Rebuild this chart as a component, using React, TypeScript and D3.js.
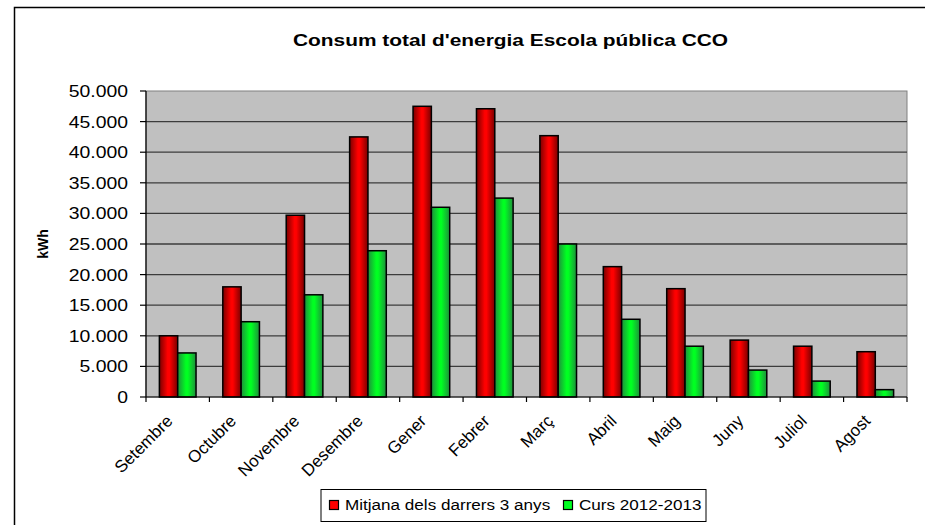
import React from "react";
import * as d3 from "d3";

const months = [
  "Setembre", "Octubre", "Novembre", "Desembre", "Gener", "Febrer",
  "Març", "Abril", "Maig", "Juny", "Juliol", "Agost",
];
const avgLast3 = [10000, 18000, 29700, 42500, 47500, 47100, 42700, 21300, 17700, 9300, 8300, 7400];
const curs1213 = [7200, 12300, 16700, 23900, 31000, 32500, 25000, 12700, 8300, 4400, 2600, 1200];
const yTicks = [0, 5000, 10000, 15000, 20000, 25000, 30000, 35000, 40000, 45000, 50000];
const seriesNames = ["Mitjana dels darrers 3 anys", "Curs 2012-2013"];

const W = 925;
const H = 525;
const plot = { left: 146, right: 907, top: 91, bottom: 397 };
const SX = 1.14;
const FONT = "'Liberation Sans', Arial, sans-serif";

const fmt = (v: number) => d3.format(",")(v).replace(/,/g, ".");

export default function App() {
  const x = d3.scaleBand<string>().domain(months).range([plot.left, plot.right]).padding(0);
  const x1 = d3
    .scaleBand<string>()
    .domain(["a", "c"])
    .range([0, x.bandwidth()])
    .paddingInner(0)
    .paddingOuter(0.73);
  const y = d3.scaleLinear().domain([0, 50000]).range([plot.bottom, plot.top]);

  const rows = months.map((m, i) => ({ m, a: avgLast3[i], c: curs1213[i] }));
  const boundaries = months.map((m) => x(m)!).concat([plot.right]);

  return (
    <svg
      width={W}
      height={H}
      style={{ position: "absolute", left: 0, top: 0, background: "#fff" }}
      fontFamily={FONT}
    >
      <defs>
        <linearGradient id="gRed" x1="0" x2="1" y1="0" y2="0">
          <stop offset="0%" stopColor="#7a0000" />
          <stop offset="45%" stopColor="#ff0000" />
          <stop offset="55%" stopColor="#ff0000" />
          <stop offset="100%" stopColor="#7a0000" />
        </linearGradient>
        <linearGradient id="gGreen" x1="0" x2="1" y1="0" y2="0">
          <stop offset="0%" stopColor="#1f8f3c" />
          <stop offset="45%" stopColor="#00ff22" />
          <stop offset="55%" stopColor="#00ff22" />
          <stop offset="100%" stopColor="#1f8f3c" />
        </linearGradient>
      </defs>

      {/* outer chart frame */}
      <rect x={14.5} y={7.5} width={W + 20} height={H + 20} fill="#fff" stroke="#000" strokeWidth={1.5} />

      {/* title */}
      <text
        x={293}
        y={46}
        fontSize={16}
        fontWeight="bold"
        textLength={435}
        lengthAdjust="spacingAndGlyphs"
      >
        Consum total d'energia Escola pública CCO
      </text>

      {/* plot area */}
      <rect
        x={plot.left}
        y={plot.top}
        width={plot.right - plot.left}
        height={plot.bottom - plot.top}
        fill="#c0c0c0"
        stroke="#808080"
        strokeWidth={1}
      />

      {/* gridlines */}
      {yTicks.slice(1, -1).map((t) => (
        <line key={t} x1={plot.left} x2={plot.right} y1={y(t)} y2={y(t)} stroke="#3c3c3c" strokeWidth={1.3} />
      ))}

      {/* bars */}
      {rows.map((r) => (
        <g key={r.m} transform={`translate(${x(r.m)},0)`}>
          <rect
            x={x1("a")}
            y={y(r.a)}
            width={x1.bandwidth()}
            height={y(0) - y(r.a)}
            fill="url(#gRed)"
            stroke="#000"
            strokeWidth={1.5}
          />
          <rect
            x={x1("c")}
            y={y(r.c)}
            width={x1.bandwidth()}
            height={y(0) - y(r.c)}
            fill="url(#gGreen)"
            stroke="#000"
            strokeWidth={1.5}
          />
        </g>
      ))}

      {/* axes */}
      <line x1={plot.left} x2={plot.left} y1={plot.top} y2={plot.bottom} stroke="#000" strokeWidth={1.2} />
      <line x1={plot.left} x2={plot.right} y1={plot.bottom} y2={plot.bottom} stroke="#000" strokeWidth={1.2} />

      {yTicks.map((t) => (
        <g key={t}>
          <line x1={plot.left - 6} x2={plot.left} y1={y(t)} y2={y(t)} stroke="#000" strokeWidth={1.2} />
          <text
            transform={`translate(128,${y(t) + 6}) scale(${SX},1)`}
            textAnchor="end"
            fontSize={17}
            fill="#000"
          >
            {fmt(t)}
          </text>
        </g>
      ))}

      {boundaries.map((bx, i) => (
        <line key={i} x1={bx} x2={bx} y1={plot.bottom} y2={plot.bottom + 5} stroke="#000" strokeWidth={1.2} />
      ))}

      {months.map((m) => {
        const cx = x(m)! + x.bandwidth() / 2;
        return (
          <text
            key={m}
            transform={`translate(${cx - 4},${422}) rotate(-45)`}
            textAnchor="end"
            fontSize={17}
            fill="#000"
          >
            {m}
          </text>
        );
      })}

      {/* y axis title */}
      <text
        transform={`translate(48,${(plot.top + plot.bottom) / 2}) rotate(-90)`}
        textAnchor="middle"
        fontSize={14}
        fontWeight="bold"
      >
        kWh
      </text>

      {/* legend */}
      <rect x={321} y={489.5} width={385} height={32} fill="#fff" stroke="#000" strokeWidth={1} />
      <rect x={329.5} y={500.5} width={9} height={9} fill="#ff0000" stroke="#000" strokeWidth={1.2} />
      <text transform={`translate(345,509.5) scale(${SX},1)`} fontSize={15}>
        {seriesNames[0]}
      </text>
      <rect x={563.5} y={500.5} width={9} height={9} fill="#00ff22" stroke="#000" strokeWidth={1.2} />
      <text transform={`translate(579,509.5) scale(${SX},1)`} fontSize={15}>
        {seriesNames[1]}
      </text>
    </svg>
  );
}
